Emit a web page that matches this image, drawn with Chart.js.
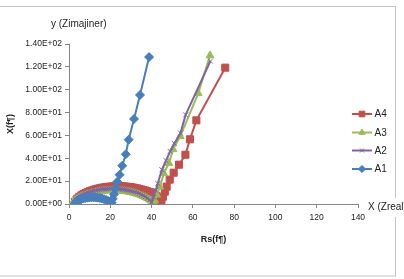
<!DOCTYPE html>
<html>
<head>
<meta charset="utf-8">
<script src="https://cdn.jsdelivr.net/npm/chart.js@4.4.1/dist/chart.umd.min.js"></script>
<style>
  html, body { margin: 0; padding: 0; background: #fff; }
  canvas { display: block; }
</style>
</head>
<body>
<canvas id="nyquist" width="404" height="279"></canvas>
<script>
// values
const a1X = [3, 3.5, 4, 5, 6, 7, 8, 9, 10, 11, 12, 13, 14, 15, 16, 17, 18, 19, 20, 20.7, 21.2, 21.8, 22.4, 23.4, 24.5, 25.8, 27.5, 28.9, 31.5, 34.4, 38.8];
const a1Y = [0.5, 1.8, 2.6, 3.5, 4.2, 4.8, 5.2, 5.5, 5.7, 5.8, 5.8, 5.7, 5.5, 5.2, 4.8, 4.2, 3.5, 2.6, 1.5, 1.2, 4.5, 8.5, 13.5, 19.5, 25.6, 33.5, 43.5, 56.3, 74.4, 95.4, 128.6];

const a2X = [2, 3, 4, 5, 6, 7, 8, 9, 10, 11, 12, 13, 14, 15, 16, 17, 18, 19, 20, 21, 22, 23, 24, 25, 26, 27, 28, 29, 30, 31, 32, 33, 34, 35, 36, 37, 38, 39, 40,
  41, 42, 43, 45, 47, 49, 51, 54, 56.5, 68.5];
const a2Y = [2.5, 4.5, 5.9, 7.0, 7.9, 8.7, 9.4, 10.0, 10.6, 11.1, 11.5, 11.9, 12.3, 12.6, 12.9, 13.1, 13.3, 13.4, 13.5, 13.5, 13.5, 13.4, 13.3, 13.1, 12.9, 12.6, 12.3, 11.9, 11.5, 11.0, 10.5, 9.9, 9.2, 8.4, 7.5, 6.4, 5.1, 3.5, 1.5,
  6, 12, 18, 30, 38, 46, 53, 62, 78, 125];

const a3X = [2, 3, 4, 5, 6, 7, 8, 9, 10, 11, 12, 13, 14, 15, 16, 17, 18, 19, 20, 21, 22, 23, 24, 25, 26, 27, 28, 29, 30, 31, 32, 33, 34, 35, 36, 37, 38, 39, 40, 41,
  41.5, 42.5, 44, 45.9, 48.4, 50.4, 53.9, 62.6, 68.3];
const a3Y = [2.0, 3.8, 5.0, 6.0, 6.8, 7.5, 8.1, 8.7, 9.2, 9.6, 10.0, 10.4, 10.7, 11.0, 11.3, 11.5, 11.7, 11.8, 11.9, 12.0, 12.0, 11.9, 11.8, 11.6, 11.4, 11.2, 10.9, 10.6, 10.2, 9.8, 9.3, 8.8, 8.2, 7.5, 6.8, 6.0, 5.0, 3.9, 2.6, 1.2,
  3, 8, 15, 26.8, 35.6, 47.8, 59.2, 96.8, 130];

const a4X = [3, 4, 5, 6, 7, 8, 9, 10, 11, 12, 13, 14, 15, 16, 17, 18, 19, 20, 21, 22, 23, 24, 25, 26, 27, 28, 29, 30, 31, 32, 33, 34, 35, 36, 37, 38, 39, 40, 41, 42,
  43, 43.8, 44.4, 44.8, 45.5, 46.4, 47.3, 48.8, 50.7, 53.3, 56.4, 58.6, 61.7, 75.7];
const a4Y = [2.0, 4.6, 6.3, 7.6, 8.7, 9.6, 10.4, 11.2, 11.8, 12.4, 12.9, 13.4, 13.8, 14.2, 14.5, 14.8, 15.0, 15.2, 15.3, 15.4, 15.5, 15.5, 15.5, 15.4, 15.3, 15.1, 14.9, 14.7, 14.4, 14.0, 13.6, 13.2, 12.7, 12.2, 11.7, 11.1, 10.5, 9.8, 9.0, 7.5,
  5.0, 2.2, 0.8, 3.5, 6.4, 10.8, 15.2, 21.3, 27.4, 34.4, 43.1, 56.6, 73.2, 119.3];

const seriesNames = ['A1', 'A2', 'A3', 'A4'];
const xTickLabels = ['0', '20', '40', '60', '80', '100', '120', '140'];
const yTickLabels = ['0.00E+00', '2.00E+01', '4.00E+01', '6.00E+01', '8.00E+01', '1.00E+02', '1.20E+02', '1.40E+02'];

const toPoints = (xs, ys) => xs.map((x, i) => ({ x: x, y: ys[i] }));

const FONT = '"Liberation Sans", Arial, sans-serif';
const axisGray = '#868686';

// frame, extra axis notes and the legend, drawn on the canvas
const extras = {
  id: 'extras',
  beforeDraw(chart) {
    const ctx = chart.ctx;
    ctx.save();
    ctx.strokeStyle = '#C4C4C4';
    ctx.lineWidth = 1;
    ctx.strokeRect(-2, 6.5, 397.5, 269.5);
    ctx.restore();
  },
  afterDraw(chart) {
    const ctx = chart.ctx;
    ctx.save();
    ctx.font = '10px ' + FONT;
    ctx.textBaseline = 'middle';
    ctx.fillStyle = '#222';
    ctx.textAlign = 'left';
    ctx.fillText('y (Zimajiner)', 51, 24);

    ctx.fillStyle = '#fff';
    ctx.fillRect(365, 198, 39, 19);
    ctx.fillStyle = '#222';
    ctx.fillText('X (Zreal)', 368, 207.5);

    // legend, reversed order like the original
    const rowsY = [114, 132.5, 150.5, 169];
    const sets = chart.data.datasets.slice().reverse();
    sets.forEach((ds, i) => {
      const y = rowsY[i];
      ctx.strokeStyle = ds.borderColor;
      ctx.fillStyle = ds.borderColor;
      ctx.lineWidth = 2;
      ctx.beginPath();
      ctx.moveTo(352, y);
      ctx.lineTo(372, y);
      ctx.stroke();
      ctx.lineWidth = 1;
      Chart.helpers.drawPoint(ctx, {
        pointStyle: ds.pointStyle,
        radius: ds.pointRadius * 0.8,
        borderWidth: 1,
        rotation: 0
      }, 362, y);
      ctx.fillStyle = '#222';
      ctx.fillText(ds.label, 374.5, y + 0.5);
    });
    ctx.restore();
  }
};

function styleFor(color) {
  return {
    borderColor: color,
    backgroundColor: color,
    pointBackgroundColor: color,
    pointBorderColor: color
  };
}

const ctx = document.getElementById('nyquist').getContext('2d');
const chart = new Chart(ctx, {
  type: 'scatter',
  data: {
    datasets: [
      Object.assign({
        label: seriesNames[0],
        data: toPoints(a1X, a1Y),
        pointStyle: 'rectRot',
        pointRadius: 4.5
      }, styleFor('#4A7EBB')),
      Object.assign({
        label: seriesNames[1],
        data: toPoints(a2X, a2Y),
        pointStyle: 'crossRot',
        pointRadius: 3.5
      }, styleFor('#8064A2')),
      Object.assign({
        label: seriesNames[2],
        data: toPoints(a3X, a3Y),
        pointStyle: 'triangle',
        pointRadius: 4.5
      }, styleFor('#9BBB59')),
      Object.assign({
        label: seriesNames[3],
        data: toPoints(a4X, a4Y),
        pointStyle: 'rect',
        pointRadius: 5
      }, styleFor('#C0504D'))
    ].map(ds => Object.assign(ds, { showLine: true, borderWidth: 2, pointBorderWidth: 1, tension: 0 }))
  },
  options: {
    responsive: false,
    animation: false,
    layout: {
      padding: { top: 44, right: 46, bottom: 0, left: 0 }
    },
    plugins: {
      legend: { display: false },
      tooltip: { enabled: false }
    },
    scales: {
      x: {
        type: 'linear',
        min: 0,
        max: 140,
        afterFit: scale => { scale.height = 75; },
        ticks: {
          stepSize: 20,
          padding: 5,
          color: '#222',
          font: { family: FONT, size: 8.5 },
          callback: (v, i) => xTickLabels[i]
        },
        grid: { drawOnChartArea: false, drawTicks: true, tickLength: 4, color: axisGray },
        border: { color: axisGray },
        title: {
          display: true,
          text: 'Rs(f¶)',
          color: '#222',
          padding: 34,
          font: { family: FONT, size: 9, weight: 'bold' }
        }
      },
      y: {
        min: 0,
        max: 140,
        afterFit: scale => { scale.width = 69; },
        ticks: {
          stepSize: 20,
          padding: 3,
          color: '#222',
          font: { family: FONT, size: 8.5 },
          callback: (v, i) => yTickLabels[i]
        },
        grid: { drawOnChartArea: false, drawTicks: true, tickLength: 4, color: axisGray },
        border: { color: axisGray },
        title: {
          display: true,
          text: 'X(f¶)',
          color: '#222',
          padding: 5,
          font: { family: FONT, size: 9, weight: 'bold' }
        }
      }
    }
  },
  plugins: [extras]
});
</script>
</body>
</html>
